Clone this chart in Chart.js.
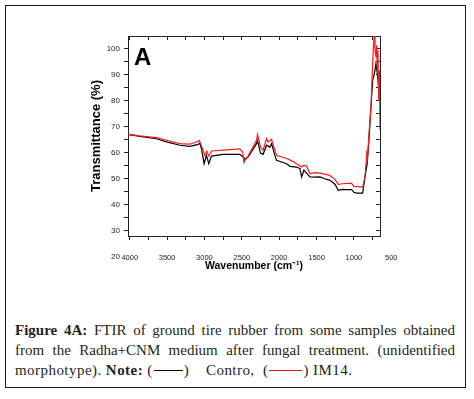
<!DOCTYPE html>
<html>
<head>
    <title>FTIR Figure 4A</title>
    <script src="https://cdn.jsdelivr.net/npm/chart.js"></script>
    <style>
        body { margin: 0; background: #fff; width: 474px; height: 399px; position: relative; overflow: hidden; }
        #frame { position: absolute; left: 5px; top: 5px; width: 459px; height: 381px; border: 1.5px solid #1a1a1a; }
        #ftirChart { position: absolute; left: 0; top: 0; }
        #panel { position: absolute; left: 134px; top: 45px; font: bold 24px 'Liberation Sans', Arial, sans-serif; line-height: 24px; color: #000; }
        #caption { position: absolute; left: 15px; top: 320px; width: 440px; font-family: 'Liberation Serif', 'Times New Roman', serif; font-size: 15px; line-height: 20px; color: #231f20; }
        #caption .j { text-align: justify; text-align-last: justify; }
        #caption .last { letter-spacing: 0.45px; white-space: nowrap; }
        .sw { display: inline-block; width: 29px; height: 0; border-top: 1.2px solid #000; vertical-align: 4px; margin: 0 1px; }
        .sw.red { width: 33px; border-top-color: #e31a1c; }
    </style>
</head>
<body>
    <div id="frame"></div>
    <canvas id="ftirChart" width="474" height="300"></canvas>
    <div id="panel">A</div>
    <div id="caption">
        <div class="j"><b>Figure 4A:</b> FTIR of ground tire rubber from some samples obtained</div>
        <div class="j">from the Radha+CNM medium after fungal treatment. (unidentified</div>
        <div class="last">morphotype). <b>Note:</b> (<span class="sw"></span>)&nbsp;&nbsp;&nbsp; Contro,&nbsp; (<span class="sw red"></span>) IM14.</div>
    </div>
    <script>
        // data (wavenumber cm-1, transmittance %)
        var wnControl = [4023, 4009, 3866, 3642, 3508, 3330, 3196, 3085, 3062, 3036, 3005, 2973, 2942, 2906, 2750, 2527, 2482, 2473, 2416, 2303, 2290, 2250, 2215, 2169, 2125, 2102, 2058, 2035, 1901, 1857, 1767, 1723, 1700, 1669, 1633, 1589, 1520, 1455, 1390, 1321, 1254, 1210, 1150, 1098, 1031, 1000, 964, 883, 852, 822, 795, 772, 749, 732, 718, 705, 687, 674, 664, 651];
        var control = [67.1, 67.0, 66.3, 65.4, 64.2, 62.9, 62.5, 63.2, 63.7, 61.0, 55.8, 59.0, 55.8, 58.7, 59.4, 59.4, 58.4, 57.4, 58.4, 63.5, 64.8, 59.9, 59.4, 62.9, 62.2, 63.5, 59.0, 57.1, 55.8, 54.8, 54.5, 54.0, 50.7, 53.3, 52.2, 50.7, 50.6, 50.7, 50.0, 49.4, 47.9, 45.6, 45.9, 45.8, 45.8, 44.8, 44.5, 44.5, 50.7, 55.8, 66.7, 77.6, 87.9, 89.8, 91.7, 94.3, 90.5, 86.7, 82.1, 84.8];

        var wnIM14 = [4023, 4009, 3866, 3642, 3508, 3330, 3196, 3085, 3072, 3036, 2995, 2969, 2942, 2906, 2750, 2527, 2487, 2473, 2416, 2303, 2290, 2250, 2215, 2169, 2151, 2102, 2058, 2035, 1901, 1830, 1767, 1700, 1669, 1633, 1589, 1520, 1455, 1390, 1321, 1254, 1210, 1150, 1098, 1031, 1000, 940, 883, 852, 829, 819, 795, 772, 749, 738, 727, 718, 705, 696, 687, 678, 669, 660, 655, 651];
        var im14 = [67.2, 67.1, 66.5, 65.8, 64.8, 63.5, 63.3, 64.4, 64.8, 62.5, 59.0, 60.6, 58.7, 60.7, 61.0, 61.5, 60.2, 56.5, 58.7, 64.8, 67.1, 62.2, 61.0, 65.5, 64.2, 65.1, 61.0, 59.0, 57.8, 56.9, 55.8, 54.5, 55.2, 54.8, 52.0, 52.4, 52.2, 51.8, 51.3, 49.8, 47.9, 48.1, 48.2, 48.2, 47.1, 47.0, 46.8, 50.7, 59.7, 57.9, 68.7, 77.6, 94.3, 101.3, 105.5, 99.4, 96.8, 101.3, 91.7, 99.4, 80.2, 91.7, 81.5, 68.7];

        var xTicks = [500, 750, 1000, 1250, 1500, 1750, 2000, 2250, 2500, 2750, 3000, 3250, 3500, 3750, 4000];
        var yTicks = [20, 25, 30, 35, 40, 45, 50, 55, 60, 65, 70, 75, 80, 85, 90, 95, 100];

        var xMin = 651, xMax = 4023;
        var yMin = 28, yMax = 104.9;

        function pts(xs, ys) {
            return xs.map(function (x, i) { return { x: x, y: ys[i] }; });
        }

        var tickFont = { family: "'Liberation Sans', Arial, sans-serif", size: 8 };
        var xTickFont = { family: "'Liberation Sans', Arial, sans-serif", size: 7.5 };
        var tickColor = '#1a1a33';

        // tick marks only inside the axis range, labels may sit outside (like the original)
        function markColor(min, max) {
            return function (c) {
                var v = c.tick ? c.tick.value : 0;
                return (v < min - 0.01 || v > max + 0.01) ? 'rgba(0,0,0,0)' : '#222';
            };
        }

        function setTicks(list) {
            return function (s) { s.ticks = list.map(function (v) { return { value: v }; }); };
        }

        // fixed box size, and no label-overflow padding (labels outside the range would blow it up)
        function fixSize(prop, size) {
            return function (s) {
                s[prop] = size;
                s.paddingLeft = s.paddingRight = s.paddingTop = s.paddingBottom = 0;
            };
        }

        var ctx = document.getElementById('ftirChart').getContext('2d');
        new Chart(ctx, {
            type: 'line',
            data: {
                datasets: [
                    { label: 'IM14', data: pts(wnIM14, im14), borderColor: '#ff1a1a', borderWidth: 1.2, pointRadius: 0, order: 0 },
                    { label: 'Contro', data: pts(wnControl, control), borderColor: '#000', borderWidth: 1.2, pointRadius: 0, order: 1 }
                ]
            },
            options: {
                responsive: false,
                animation: false,
                layout: { padding: { left: 88, right: 94, top: 36, bottom: 24 } },
                plugins: { legend: { display: false }, tooltip: { enabled: false } },
                scales: {
                    x: {
                        type: 'linear', reverse: true, min: xMin, max: xMax,
                        afterBuildTicks: setTicks(xTicks),
                        afterFit: fixSize('height', 40),
                        border: { color: '#222', width: 1 },
                        grid: { drawOnChartArea: false, tickLength: 4, tickColor: markColor(xMin, xMax) },
                        ticks: {
                            autoSkip: false, maxRotation: 0, padding: 13, font: xTickFont, color: tickColor,
                            callback: function (v) { return v % 500 === 0 ? v : ''; }
                        },
                        title: {
                            display: true, text: 'Wavenumber (cm\u207B\u00B9)',
                            font: { family: "'Liberation Sans', Arial, sans-serif", size: 10.5, weight: 'bold' },
                            color: '#000', padding: { top: 0, bottom: 4 }
                        }
                    },
                    x2: {
                        type: 'linear', position: 'top', reverse: true, min: xMin, max: xMax,
                        afterBuildTicks: setTicks(xTicks),
                        afterFit: fixSize('height', 0),
                        border: { color: '#222', width: 1 },
                        grid: { drawOnChartArea: false, tickLength: -4, tickColor: markColor(xMin, xMax) },
                        ticks: { display: false }
                    },
                    y: {
                        type: 'linear', min: yMin, max: yMax,
                        afterBuildTicks: setTicks(yTicks),
                        afterFit: fixSize('width', 40),
                        border: { color: '#222', width: 1 },
                        grid: { drawOnChartArea: false, tickLength: 4, tickColor: markColor(yMin, yMax) },
                        ticks: {
                            autoSkip: false, padding: 4, font: tickFont, color: tickColor,
                            callback: function (v) { return v % 10 === 0 ? v : ''; }
                        },
                        title: {
                            display: true, text: 'Transmittance (%)',
                            font: { family: "'Liberation Sans', Arial, sans-serif", size: 13, weight: 'bold' },
                            color: '#000', padding: { top: 1, bottom: 0 }
                        }
                    },
                    y2: {
                        type: 'linear', position: 'right', min: yMin, max: yMax,
                        afterBuildTicks: setTicks(yTicks),
                        afterFit: fixSize('width', 0),
                        border: { color: '#222', width: 1 },
                        grid: { drawOnChartArea: false, tickLength: -4, tickColor: markColor(yMin, yMax) },
                        ticks: { display: false }
                    }
                }
            }
        });
    </script>
</body>
</html>
